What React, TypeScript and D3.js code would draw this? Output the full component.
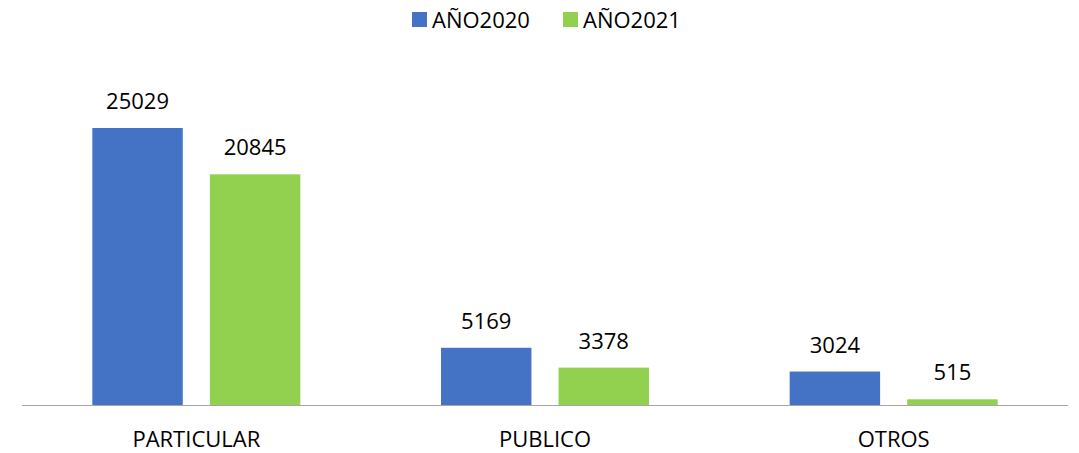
import React from "react";
import * as d3 from "d3";

const categories = ["PARTICULAR", "PUBLICO", "OTROS"];
const seriesNames = ["AÑO2020", "AÑO2021"];
const values2020 = [25029, 5169, 3024];
const values2021 = [20845, 3378, 515];
const colors = ["#4472C4", "#92D050"];

const width = 1079;
const height = 453;
const left = 22;
const right = 1068;
const baseline = 405;
const font = "'Open Sans', 'Liberation Sans', sans-serif";

const App: React.FC = () => {
  const x = d3.scaleBand<string>().domain(categories).range([left, right]).paddingInner(0).paddingOuter(0);
  const x1 = d3.scaleBand<string>().domain(seriesNames).range([0, 208]).paddingInner(24 / 104);
  const y = d3.scaleLinear().domain([0, 30000]).range([baseline, baseline - 332]);
  const series = [values2020, values2021];

  return (
    <svg width={width} height={height} style={{ position: "absolute", left: 0, top: 0 }}>
      <rect width={width} height={height} fill="#fff" />
      {/* legend */}
      <g fontFamily={font} fontSize={22} fill="#000">
        <rect x={412} y={12} width={15} height={15} fill={colors[0]} />
        <text x={432} y={28}>{seriesNames[0]}</text>
        <rect x={563} y={12} width={15} height={15} fill={colors[1]} />
        <text x={583} y={28}>{seriesNames[1]}</text>
      </g>
      {categories.map((c, i) => {
        const gx = (x(c) ?? 0) + x.bandwidth() / 2 - 104;
        return (
          <g key={c}>
            {seriesNames.map((s, j) => {
              const v = series[j][i];
              const bx = gx + (x1(s) ?? 0);
              return (
                <g key={s}>
                  <rect x={bx} y={y(v)} width={x1.bandwidth()} height={baseline - y(v)} fill={colors[j]} />
                  <text x={bx + x1.bandwidth() / 2} y={y(v) - 19} textAnchor="middle" fontFamily={font} fontSize={22} fill="#000">
                    {v}
                  </text>
                </g>
              );
            })}
            <text x={(x(c) ?? 0) + x.bandwidth() / 2} y={447} textAnchor="middle" fontFamily={font} fontSize={22} fill="#000">
              {c}
            </text>
          </g>
        );
      })}
      <line x1={left} x2={right} y1={baseline + 0.5} y2={baseline + 0.5} stroke="#A6A6A6" strokeWidth={1} />
    </svg>
  );
};

export default App;
